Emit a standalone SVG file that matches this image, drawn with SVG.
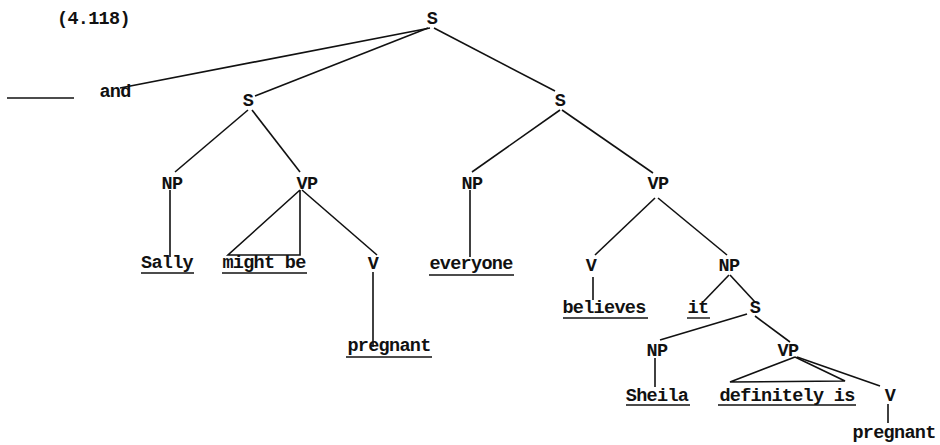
<svg xmlns="http://www.w3.org/2000/svg" width="940" height="445" viewBox="0 0 940 445">
<style>
text{font-family:"Liberation Mono","Courier New",monospace;font-size:18.5px;letter-spacing:-0.7px;font-weight:bold;fill:#111;text-anchor:middle}
.l{text-anchor:start}
line,polyline{stroke:#111;stroke-width:1.6;fill:none}
.u{stroke-width:1.4}
</style>
<rect width="940" height="445" fill="#fff"/>
<text class="l" x="57" y="24">(4.118)</text>
<g id="connectors">
<line x1="430" y1="28" x2="120" y2="88"/>
<line x1="428" y1="28" x2="255" y2="96"/>
<line x1="434" y1="28" x2="555" y2="91"/>
<line x1="7" y1="98" x2="74" y2="98"/>
<line x1="248" y1="110" x2="175" y2="172"/>
<line x1="252" y1="110" x2="300" y2="172"/>
<line x1="560" y1="110" x2="472" y2="172"/>
<line x1="562" y1="110" x2="653" y2="173"/>
<line x1="170" y1="190" x2="170" y2="257"/>
<polyline points="300,190 228,255 300,255 300,190"/>
<line x1="302" y1="190" x2="377" y2="255"/>
<line x1="373" y1="272" x2="373" y2="347"/>
<line x1="470" y1="190" x2="470" y2="257"/>
<line x1="655" y1="198" x2="595" y2="255"/>
<line x1="658" y1="198" x2="727" y2="255"/>
<line x1="593" y1="277" x2="593" y2="300"/>
<line x1="729" y1="275" x2="703" y2="302"/>
<line x1="730" y1="275" x2="755" y2="302"/>
<line x1="747" y1="314" x2="660" y2="340"/>
<line x1="755" y1="316" x2="790" y2="342"/>
<line x1="655" y1="358" x2="655" y2="387"/>
<polyline points="795,357 730,382 845,381 795,357"/>
<line x1="797" y1="357" x2="880" y2="386"/>
<line x1="888" y1="404" x2="888" y2="423"/>
</g>
<g id="S_top"><text x="432" y="24">S</text></g>
<g id="and"><text x="115" y="97">and</text></g>
<g id="S_left"><text x="248" y="106">S</text></g>
<g id="S_right"><text x="560" y="106">S</text></g>
<g id="NP_sally"><text x="172" y="189">NP</text></g>
<g id="VP_left"><text x="307" y="189">VP</text></g>
<g id="NP_everyone"><text x="472" y="189">NP</text></g>
<g id="VP_right"><text x="658" y="189">VP</text></g>
<g id="Sally"><text x="167" y="268">Sally</text><line class="u" x1="141" y1="273" x2="194" y2="273"/></g>
<g id="might_be"><text x="264" y="268">might be</text><line class="u" x1="222" y1="273" x2="307" y2="273"/></g>
<g id="V_left"><text x="373" y="269">V</text></g>
<g id="pregnant_left"><text x="389" y="351">pregnant</text><line class="u" x1="346" y1="357" x2="432" y2="357"/></g>
<g id="everyone"><text x="471" y="269">everyone</text><line class="u" x1="429" y1="275" x2="514" y2="275"/></g>
<g id="V_believes"><text x="591" y="271">V</text></g>
<g id="NP_it"><text x="729" y="271">NP</text></g>
<g id="believes"><text x="604" y="313">believes</text><line class="u" x1="563" y1="318" x2="648" y2="318"/></g>
<g id="it"><text x="698" y="313">it</text><line class="u" x1="687" y1="318" x2="710" y2="318"/></g>
<g id="S_inner"><text x="755" y="313">S</text></g>
<g id="NP_sheila"><text x="657" y="356">NP</text></g>
<g id="VP_inner"><text x="788" y="356">VP</text></g>
<g id="V_inner"><text x="890" y="401">V</text></g>
<g id="Sheila"><text x="657" y="401">Sheila</text><line class="u" x1="626" y1="405" x2="690" y2="405"/></g>
<g id="definitely_is"><text x="787" y="401">definitely is</text><line class="u" x1="718" y1="405" x2="856" y2="405"/></g>
<g id="pregnant_right"><text x="894" y="438">pregnant</text></g>
</svg>
